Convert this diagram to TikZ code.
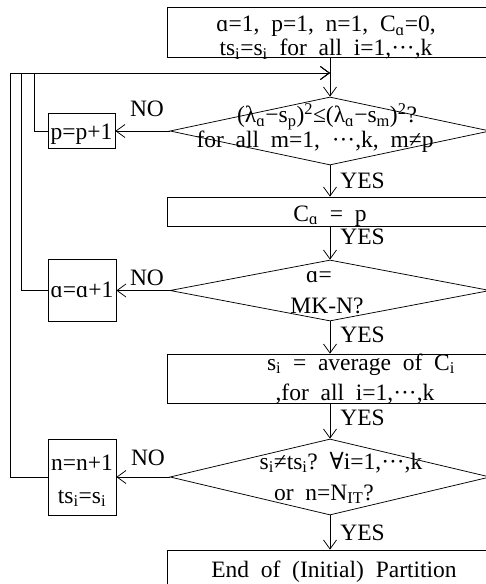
\documentclass[tikz,border=0pt]{standalone}
\usepackage{fontspec}
\setmainfont{Liberation Serif}
\newfontfamily\symf{DejaVu Serif}
\usetikzlibrary{arrows.meta,shapes.geometric}
\newcommand{\al}{ɑ}
\newcommand{\dts}{\textperiodcentered\textperiodcentered\textperiodcentered}
\newcommand{\fa}{{\symf ∀}}
\newcommand{\sbs}[1]{\textsubscript{#1}}
\newcommand{\sps}[1]{\textsuperscript{#1}}
\begin{document}
\begin{tikzpicture}[x=1bp,y=-1bp,
  every node/.style={font=\fontsize{23.5bp}{24bp}\selectfont, inner sep=0pt},
  box/.style={draw, rectangle},
  dia/.style={draw, diamond},
  lbl/.style={anchor=base},
  arr/.style={-{Straight Barb[length=9bp,width=13bp]}},
  line width=0.75bp]
\useasboundingbox (0,0) rectangle (486,584);
\clip (0,0) rectangle (486,584);
% main column
\node[box, minimum width=326bp, minimum height=50bp] (b1) at (330,32) {};
\node[dia, minimum width=320bp, minimum height=68bp] (d1) at (330,131) {};
\node[box, minimum width=326bp, minimum height=29bp] (b2) at (330,211.5) {};
\node[dia, minimum width=320bp, minimum height=61bp] (d2) at (330,290.5) {};
\node[box, minimum width=326bp, minimum height=49bp] (b3) at (330,378.5) {};
\node[dia, minimum width=320bp, minimum height=76bp] (d3) at (330,477) {};
\node[box, minimum width=326bp, minimum height=60bp] (b4) at (330,580) {};
% side boxes
\node[box, minimum width=67bp, minimum height=35bp] (p) at (81.5,131) {};
\node[box, minimum width=68bp, minimum height=62bp] (a) at (82,290.5) {};
\node[box, minimum width=68bp, minimum height=76bp] (n) at (82,477) {};
% texts
\node[lbl] (t1a) at (326,31.5) {\al=1,\ \ p=1,\ \ n=1,\ \ C\sbs{\al}=0,};
\node[lbl] (t1b) at (326,56) {ts\sbs{i}=s\sbs{i}\ \ for\ \ all\ \ i=1,\dts,k};
\node[lbl] (t2a) at (327,123) {(λ\sbs{\al}−s\sbs{p})\sps{2}≤(λ\sbs{\al}−s\sbs{m})\sps{2}?};
\node[lbl] (t2b) at (315,148) {for\ \ all\ \ m=1,\ \ \dts,k,\ \ m≠p};
\node[lbl] (t3) at (330,221) {C\sbs{\al}\ \ =\ \ p};
\node[lbl] (t4a) at (319,282) {\al=};
\node[lbl] (t4b) at (327,313) {MK-N?};
\node[lbl] (t5a) at (361,370) {s\sbs{i}\ \ =\ \ average\ \ of\ \ C\sbs{i}};
\node[lbl] (t5b) at (355,400) {,for\ \ all\ \ i=1,\dts,k};
\node[lbl] (t6a) at (341,469) {s\sbs{i}≠ts\sbs{i}?\ \ \fa i=1,\dts,k};
\node[lbl] (t6b) at (324,500) {or\ \ n=N\sbs{IT}?};
\node[lbl] (t7) at (334,577) {End\ \ of\ \ (Initial)\ \ Partition};
\node[lbl] (tp) at (81.5,140) {p=p+1};
\node[lbl] (ta) at (82,297) {\al=\al+1};
\node[lbl] (tn1) at (82,470) {n=n+1};
\node[lbl] (tn2) at (82,503) {ts\sbs{i}=s\sbs{i}};
% labels
\node[lbl] (no1) at (147,117) {NO};
\node[lbl] (no2) at (147,285) {NO};
\node[lbl] (no3) at (148,465) {NO};
\node[lbl, anchor=base west] (y1) at (340,188) {YES};
\node[lbl, anchor=base west] (y2) at (340,244) {YES};
\node[lbl, anchor=base west] (y3) at (340,342) {YES};
\node[lbl, anchor=base west] (y4) at (340,425) {YES};
\node[lbl, anchor=base west] (y5) at (340,540) {YES};
% connectors
\coordinate (j) at (330,73);
\draw[arr] (b1.south) -- (d1.north);
\draw[arr] (d1.south) -- (b2.north);
\draw[arr] (b2.south) -- (d2.north);
\draw[arr] (d2.south) -- (b3.north);
\draw[arr] (b3.south) -- (d3.north);
\draw[arr] (d3.south) -- (b4.north);
\draw[arr] (d1.west) -- (p.east);
\draw[arr] (d2.west) -- (a.east);
\draw[arr] (d3.west) -- (n.east);
\draw[arr] (p.west) -- ++(-13,0) |- (j);
\draw[arr] (a.west) -- ++(-26,0) |- (j);
\draw[arr] (n.west) -- ++(-37,0) |- (j);
\end{tikzpicture}
\end{document}
